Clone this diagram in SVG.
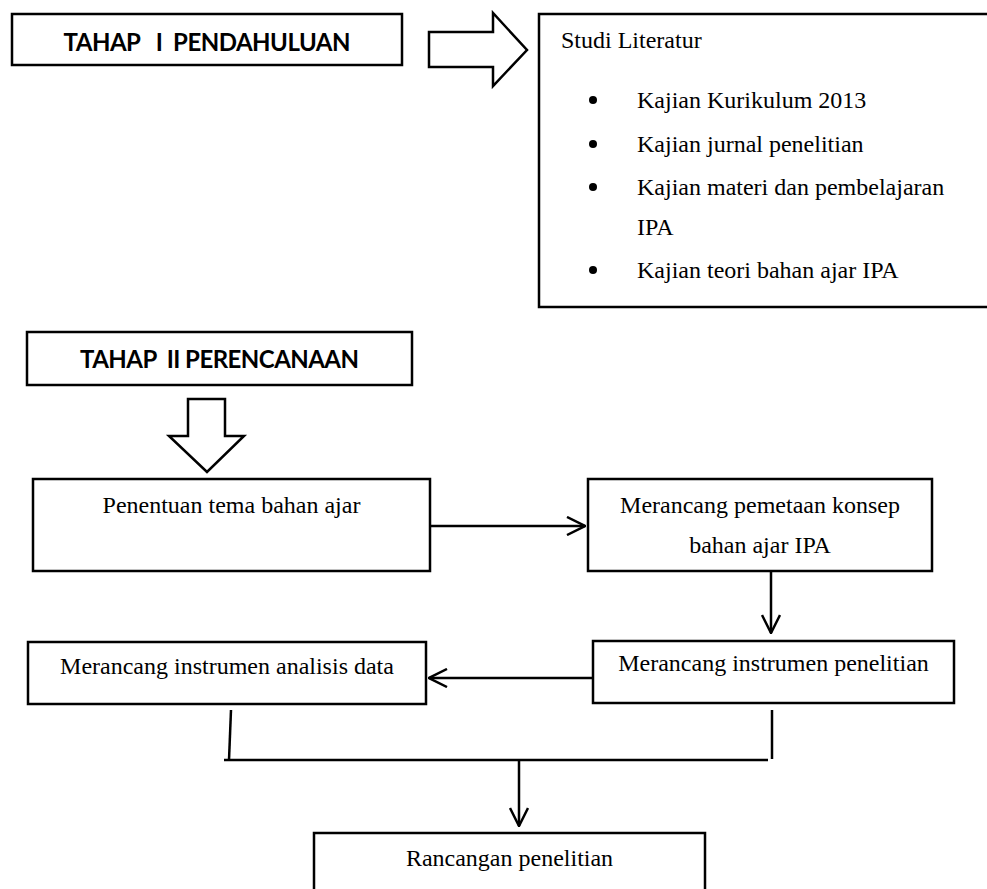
<svg xmlns="http://www.w3.org/2000/svg" width="987" height="889" viewBox="0 0 987 889">
<style>
.box{fill:#fff;stroke:#000;stroke-width:2.5}
.blk{fill:#fff;stroke:#000;stroke-width:2.5;stroke-linejoin:miter}
.ln{fill:none;stroke:#000;stroke-width:2.5}
.hd{font-family:Lato,"Liberation Sans",Arial,sans-serif;font-weight:bold;font-size:24px;fill:#000;white-space:pre}
.t{font-family:"Liberation Serif","Times New Roman",serif;font-size:24px;fill:#000}
</style>
<defs>
<marker id="v" viewBox="0 0 20 20" refX="19" refY="10" markerWidth="20" markerHeight="20" markerUnits="userSpaceOnUse" orient="auto">
<path d="M1,1 L19,10 L1,19" fill="none" stroke="#000" stroke-width="2.5"/>
</marker>
</defs>
<g id="tahap1">
<rect class="box" x="12" y="14" width="390" height="51"/>
<text class="hd" x="207" y="51" text-anchor="middle" xml:space="preserve" textLength="287" lengthAdjust="spacing">TAHAP   I  PENDAHULUAN</text>
</g>
<g id="arrow1">
<polygon class="blk" points="429,32 493,32 493,13 527,50 493,86 493,67 429,67"/>
</g>
<g id="studi">
<rect class="box" x="539" y="14" width="456" height="293"/>
<text class="t" x="561" y="48">Studi Literatur</text>
<circle cx="593" cy="100" r="4"/>
<text class="t" x="637" y="108">Kajian Kurikulum 2013</text>
<circle cx="593" cy="144" r="4"/>
<text class="t" x="637" y="152">Kajian jurnal penelitian</text>
<circle cx="593" cy="187" r="4"/>
<text class="t" x="637" y="195">Kajian materi dan pembelajaran</text>
<text class="t" x="637" y="235">IPA</text>
<circle cx="593" cy="270" r="4"/>
<text class="t" x="637" y="278">Kajian teori bahan ajar IPA</text>
</g>
<g id="tahap2">
<rect class="box" x="27" y="332" width="385" height="53"/>
<text class="hd" x="219.5" y="368" text-anchor="middle" xml:space="preserve" textLength="279" lengthAdjust="spacing">TAHAP  II PERENCANAAN</text>
</g>
<g id="arrow2">
<polygon class="blk" points="188,399 225,399 225,436 244,436 207,472 169,436 188,436"/>
</g>
<g id="penentuan">
<rect class="box" x="33" y="479" width="397" height="92"/>
<text class="t" x="231.5" y="513" text-anchor="middle">Penentuan tema bahan ajar</text>
</g>
<g id="pemetaan">
<rect class="box" x="588" y="479" width="344" height="92"/>
<text class="t" x="760" y="513" text-anchor="middle">Merancang pemetaan konsep</text>
<text class="t" x="760" y="553" text-anchor="middle">bahan ajar IPA</text>
</g>
<g id="instrumen-penelitian">
<rect class="box" x="593" y="641" width="361" height="62"/>
<text class="t" x="773.5" y="671" text-anchor="middle">Merancang instrumen penelitian</text>
</g>
<g id="instrumen-analisis">
<rect class="box" x="28" y="642" width="398" height="62"/>
<text class="t" x="227" y="674" text-anchor="middle">Merancang instrumen analisis data</text>
</g>
<g id="rancangan">
<rect class="box" x="314" y="833" width="391" height="60"/>
<text class="t" x="509.5" y="866" text-anchor="middle">Rancangan penelitian</text>
</g>
<g id="connectors">
<line class="ln" x1="430" y1="526" x2="585" y2="526" marker-end="url(#v)"/>
<line class="ln" x1="771" y1="571" x2="771" y2="633" marker-end="url(#v)"/>
<line class="ln" x1="593" y1="678" x2="429" y2="678" marker-end="url(#v)"/>
<line class="ln" x1="231" y1="710" x2="229" y2="760"/>
<line class="ln" x1="772" y1="710" x2="772" y2="759"/>
<line class="ln" x1="224" y1="760" x2="768" y2="760"/>
<line class="ln" x1="519" y1="760" x2="519" y2="826" marker-end="url(#v)"/>
</g>
</svg>
